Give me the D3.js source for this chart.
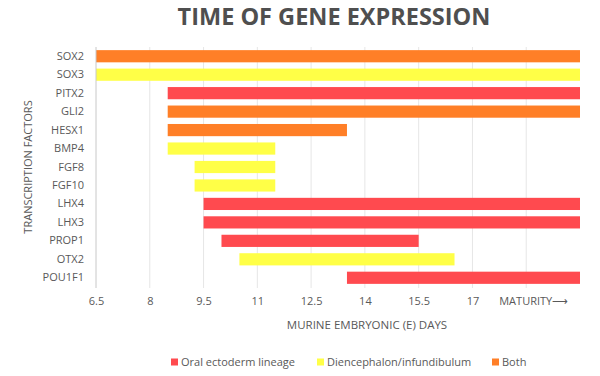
<!DOCTYPE html>
<html>
<head>
<meta charset="utf-8">
<script src="https://cdn.jsdelivr.net/npm/d3@7"></script>
<style>
  body { margin: 0; background: #fff; }
  text { font-family: "Open Sans", sans-serif; fill: #595959; }
</style>
</head>
<body>
<div class="chart"></div>
<script>
// Transcription factors, top to bottom
const genes = ["SOX2", "SOX3", "PITX2", "GLI2", "HESX1", "BMP4", "FGF8", "FGF10", "LHX4", "LHX3", "PROP1", "OTX2", "POU1F1"];
// Start and end of expression (embryonic days, 20 = maturity)
const starts = [6.5, 6.5, 8.5, 8.5, 8.5, 8.5, 9.25, 9.25, 9.5, 9.5, 10, 10.5, 13.5];
const ends = [20, 20, 20, 20, 13.5, 11.5, 11.5, 11.5, 20, 20, 15.5, 16.5, 20];
// Lineage of each gene
const lineage = ["Both", "Diencephalon/infundibulum", "Oral ectoderm lineage", "Both", "Both", "Diencephalon/infundibulum",
  "Diencephalon/infundibulum", "Diencephalon/infundibulum", "Oral ectoderm lineage", "Oral ectoderm lineage",
  "Oral ectoderm lineage", "Diencephalon/infundibulum", "Oral ectoderm lineage"];

// Tick values and labels on the x axis
const tickValues = [6.5, 8, 9.5, 11, 12.5, 14, 15.5, 17, 18.5];
const tickLabels = ["6.5", "8", "9.5", "11", "12.5", "14", "15.5", "17", "MATURITY\u27F6"];

// Legend
const groups = ["Oral ectoderm lineage", "Diencephalon/infundibulum", "Both"];
const groupColors = ["#ff4a4f", "#ffff47", "#ff7f27"];

const width = 600;
const height = 376;

const svg = d3.select(".chart")
  .append("svg")
    .attr("width", width)
    .attr("height", height);

const color = d3.scaleOrdinal().domain(groups).range(groupColors);

const x = d3.scaleLinear()
  .domain([6.5, 20])
  .range([96, 580]);

const y = d3.scaleBand()
  .domain(genes)
  .range([47, 287])
  .paddingInner(0.34)
  .paddingOuter(0.17);

// Title
svg.append("text")
  .attr("x", 334)
  .attr("y", 25)
  .attr("text-anchor", "middle")
  .style("font-size", "23.5px")
  .style("font-weight", "bold")
  .style("fill", "#4f4f4f")
  .text("TIME OF GENE EXPRESSION");

// Gridlines
svg.append("g")
  .selectAll("line")
  .data(tickValues.slice(1))
  .enter()
  .append("line")
    .attr("x1", d => x(d))
    .attr("x2", d => x(d))
    .attr("y1", 47)
    .attr("y2", 288)
    .attr("stroke", "#e6e6e6")
    .attr("stroke-width", 1);

// Bars
svg.append("g")
  .selectAll("rect")
  .data(genes)
  .enter()
  .append("rect")
    .attr("x", (d, i) => x(starts[i]))
    .attr("y", d => y(d))
    .attr("width", (d, i) => x(ends[i]) - x(starts[i]))
    .attr("height", y.bandwidth())
    .attr("fill", (d, i) => color(lineage[i]));

// Y axis line
svg.append("line")
  .attr("x1", x(6.5))
  .attr("x2", x(6.5))
  .attr("y1", 47)
  .attr("y2", 288)
  .attr("stroke", "#c8c8c8")
  .attr("stroke-width", 1);

// Y axis labels
const yAxis = svg.append("g")
  .attr("transform", "translate(84,0)")
  .call(d3.axisLeft(y).tickSize(0).tickPadding(0));
yAxis.select(".domain").remove();
yAxis.selectAll("text")
  .style("font-size", "11px")
  .style("fill", "#595959");

// X axis labels
const xAxis = svg.append("g")
  .attr("transform", "translate(0,297)")
  .call(d3.axisBottom(x)
    .tickValues(tickValues)
    .tickFormat((d, i) => tickLabels[i])
    .tickSize(0)
    .tickPadding(0));
xAxis.select(".domain").remove();
xAxis.selectAll("text")
  .attr("dy", "0.71em")
  .style("font-size", "11px")
  .style("fill", "#595959");
xAxis.selectAll(".tick:last-of-type text")
  .attr("dx", "7");

// Axis titles
svg.append("text")
  .attr("x", 367)
  .attr("y", 329)
  .attr("text-anchor", "middle")
  .style("font-size", "11.5px")
  .text("MURINE EMBRYONIC (E) DAYS");

svg.append("text")
  .attr("transform", "translate(32,167) rotate(-90)")
  .attr("text-anchor", "middle")
  .style("font-size", "11px")
  .text("TRANSCRIPTION FACTORS");

// Legend
const legendX = [171, 317, 492];
const legend = svg.append("g")
  .selectAll("g")
  .data(groups)
  .enter()
  .append("g")
    .attr("transform", (d, i) => `translate(${legendX[i]}, 362)`);

legend.append("rect")
  .attr("x", 0)
  .attr("y", -3.5)
  .attr("width", 7)
  .attr("height", 7)
  .attr("fill", d => color(d));

legend.append("text")
  .attr("x", 10)
  .attr("dy", "0.35em")
  .style("font-size", "11px")
  .text(d => d);
</script>
</body>
</html>
